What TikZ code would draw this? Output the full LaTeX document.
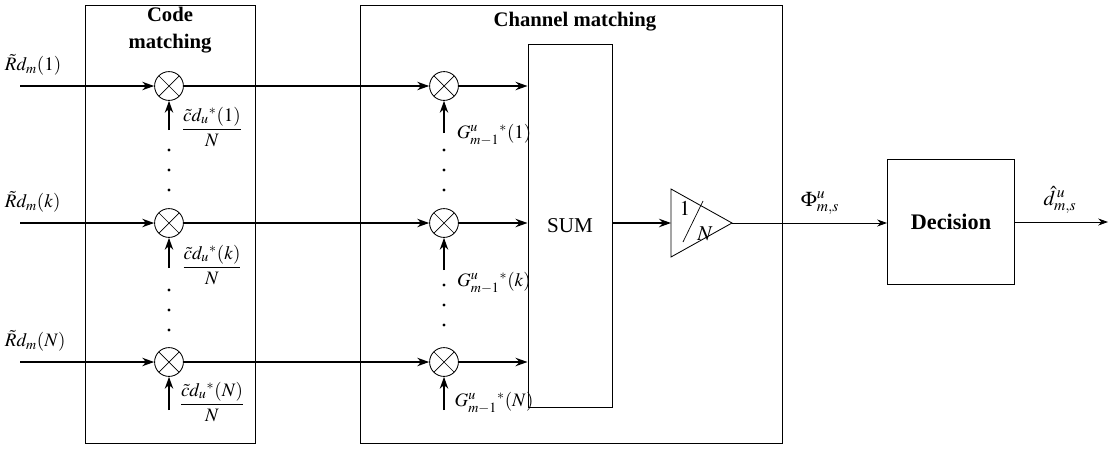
\documentclass[tikz,border=0pt]{standalone}
\usepackage{amsmath}
\usepackage{mathptmx}
\usepackage{fontspec}
\setmainfont{Liberation Serif}
\usetikzlibrary{arrows.meta, positioning, calc}

\begin{document}
\begin{tikzpicture}[x=0.025cm, y=-0.025cm,
    mul/.style={draw, circle, minimum size=0.72cm, inner sep=0, line width=0.6pt,
        path picture={\draw[line width=0.5pt] (path picture bounding box.north west) -- (path picture bounding box.south east)
            (path picture bounding box.north east) -- (path picture bounding box.south west);}},
    frame/.style={draw, line width=0.6pt},
    blk/.style={draw, line width=0.7pt, inner sep=0},
    sig/.style={-{Stealth[length=8.5pt, width=6pt]}, line width=1pt},
    thin/.style={-{Stealth[length=7pt, width=5pt]}, line width=0.6pt},
    dot/.style={circle, fill, inner sep=0, minimum size=2.4pt},
    lbl/.style={font=\fontsize{13.5}{15}\selectfont},
    ttl/.style={font=\fontsize{14.7}{19}\selectfont\bfseries, align=center}]
\useasboundingbox (0,0) rectangle (1111,448);
% frames
\draw[frame] (85,5) rectangle (255,443);
\draw[frame] (360,5) rectangle (782,443);
\node[ttl] at (170,30) {Code\\matching};
\node[ttl] at (575,22) {Channel matching};
% multipliers
\node[mul] (ma1) at (169,86)  {};
\node[mul] (mak) at (169,223) {};
\node[mul] (maN) at (169,362) {};
\node[mul] (mb1) at (444,86)  {};
\node[mul] (mbk) at (444,223) {};
\node[mul] (mbN) at (444,362) {};
\node[blk, font=\fontsize{15}{17}\selectfont, minimum width=2.1cm, minimum height=9.075cm] (sum) at (570,226) {SUM};
\node[blk, font=\fontsize{15.8}{18}\selectfont\bfseries, minimum width=3.175cm, minimum height=3.1cm] (dec) at (951,222) {Decision};
% inputs
\coordinate (in1) at (20,86);
\coordinate (ink) at (20,223);
\coordinate (inN) at (20,362);
\node[lbl, anchor=south west] at (0,80)  {$\tilde{R}d_m(1)$};
\node[lbl, anchor=south west] at (0,217) {$\tilde{R}d_m(k)$};
\node[lbl, anchor=south west] at (0,356) {$\tilde{R}d_m(N)$};
\draw[sig] (in1) -- (ma1);
\draw[sig] (ink) -- (mak);
\draw[sig] (inN) -- (maN);
\draw[sig] (ma1) -- (mb1);
\draw[sig] (mak) -- (mbk);
\draw[sig] (maN) -- (mbN);
\draw[sig] (mb1) -- (mb1 -| sum.west);
\draw[sig] (mbk) -- (mbk -| sum.west);
\draw[sig] (mbN) -- (mbN -| sum.west);
% code weights
\coordinate (ca1) at (169,130);
\coordinate (cak) at (169,268);
\coordinate (caN) at (169,410);
\draw[sig] (ca1) -- (ma1);
\draw[sig] (cak) -- (mak);
\draw[sig] (caN) -- (maN);
\node[lbl] at (212,127) {$\dfrac{\tilde{c}d_u{}^{*}(1)}{N}$};
\node[lbl] at (212,265) {$\dfrac{\tilde{c}d_u{}^{*}(k)}{N}$};
\node[lbl] at (212,402) {$\dfrac{\tilde{c}d_u{}^{*}(N)}{N}$};
% channel weights
\coordinate (cb1) at (444,133);
\coordinate (cbk) at (444,270);
\coordinate (cbN) at (444,410);
\draw[sig] (cb1) -- (mb1);
\draw[sig] (cbk) -- (mbk);
\draw[sig] (cbN) -- (mbN);
\node[lbl] at (494,135) {$G^{u}_{m-1}{}^{*}(1)$};
\node[lbl] at (494,283) {$G^{u}_{m-1}{}^{*}(k)$};
\node[lbl] at (494,403) {$G^{u}_{m-1}{}^{*}(N)$};
% dots
\foreach \y in {150,170,190,290,310,330}
  \node[dot] at (169,\y) {};
\foreach \y in {150,170,190,285,305,325}
  \node[dot] at (444,\y) {};
% scaling
\coordinate (triL) at (671,223);
\coordinate (triR) at (732,223);
\draw[line width=0.6pt] (671,189) -- (triR) -- (671,257) -- cycle;
\node[lbl, font=\fontsize{15}{17}\selectfont] at (685,208) {$1$};
\node[lbl, font=\fontsize{15}{17}\selectfont] at (705,234) {$N$};
\draw[line width=0.5pt] (683,242) -- (703,201);
\draw[sig] (sum.east |- triL) -- (triL);
\draw[thin] (triR) -- (dec.west |- triR);
\node[lbl, font=\fontsize{15}{17}\selectfont] at (820,203) {$\Phi^{u}_{m,s}$};
\coordinate (out) at (1108,222);
\draw[thin] (dec.east) -- (out);
\node[lbl, font=\fontsize{15}{17}\selectfont] at (1060,200) {$\hat{d}^{\,u}_{m,s}$};
\end{tikzpicture}
\end{document}
